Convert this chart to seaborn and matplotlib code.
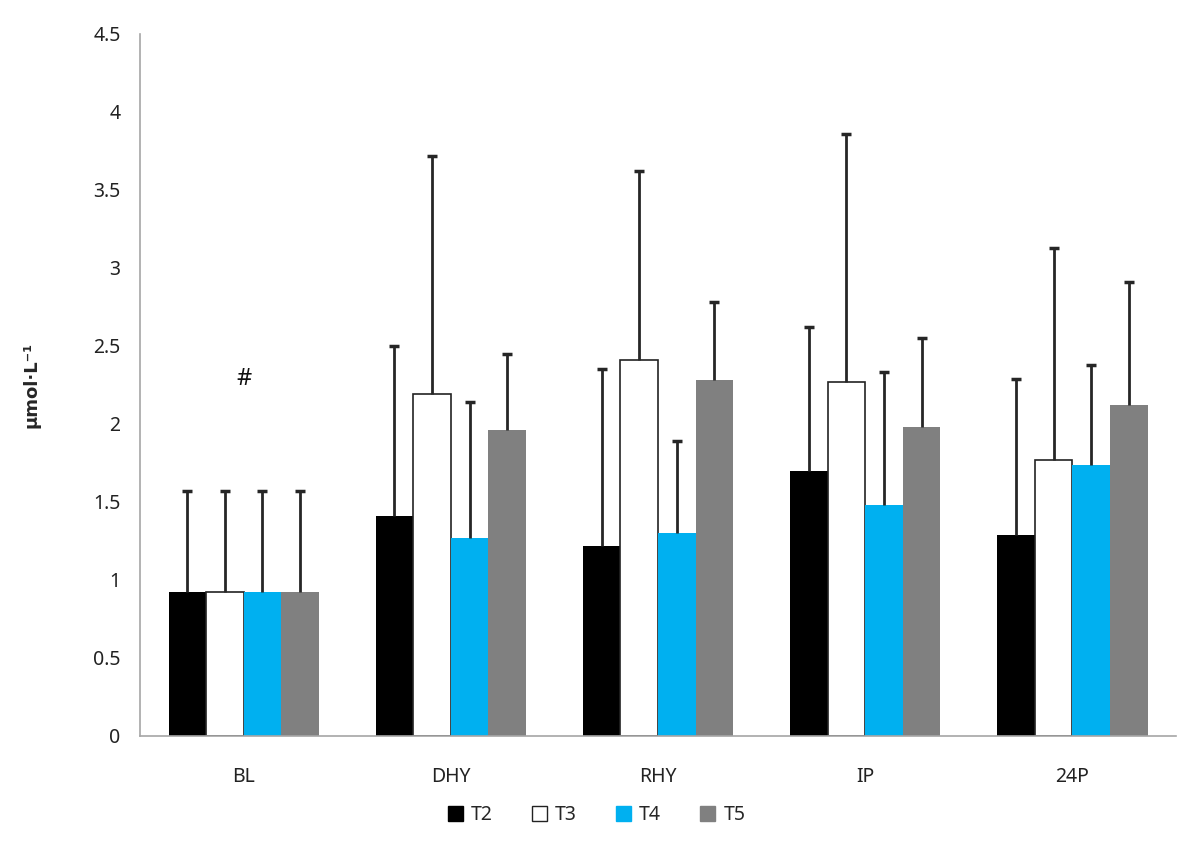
import numpy as np
import pandas as pd
import matplotlib
matplotlib.use("Agg")
import matplotlib.pyplot as plt
from matplotlib.patches import Patch
import seaborn as sns

# data
phases = ["BL", "DHY", "RHY", "IP", "24P"]
groups = ["T2", "T3", "T4", "T5"]
t2_mean = [0.92, 1.41, 1.22, 1.70, 1.29]
t3_mean = [0.92, 2.19, 2.41, 2.27, 1.77]
t4_mean = [0.92, 1.27, 1.30, 1.48, 1.74]
t5_mean = [0.92, 1.96, 2.28, 1.98, 2.12]
t2_sd = [0.65, 1.09, 1.13, 0.92, 1.00]
t3_sd = [0.65, 1.53, 1.21, 1.59, 1.36]
t4_sd = [0.65, 0.87, 0.59, 0.85, 0.64]
t5_sd = [0.65, 0.49, 0.50, 0.57, 0.79]
colors = ["#000000", "#ffffff", "#00b0f0", "#808080"]

means = [t2_mean, t3_mean, t4_mean, t5_mean]
sds = [t2_sd, t3_sd, t4_sd, t5_sd]
df = pd.DataFrame({
    "phase": np.tile(phases, len(groups)),
    "group": np.repeat(groups, len(phases)),
    "value": np.concatenate(means),
})

sns.set_style("white")
plt.rcParams["font.family"] = ["Noto Sans", "DejaVu Sans"]

fig = plt.figure(figsize=(12, 8.6), dpi=100)
ax = fig.add_axes([0.1167, 0.1442, 0.8633, 0.8163])

sns.barplot(data=df, x="phase", y="value", hue="group", order=phases,
            hue_order=groups, palette=colors, width=0.725, errorbar=None,
            saturation=1, linewidth=0, ax=ax, legend=False)

# error bars (upper only) on top of each bar
for cont, sd in zip(ax.containers, sds):
    xs = [b.get_x() + b.get_width() / 2 for b in cont]
    hs = [b.get_height() for b in cont]
    eb = ax.errorbar(xs, hs, yerr=[np.zeros(len(sd)), sd], fmt="none",
                     ecolor="#262626", elinewidth=2, capsize=3.5,
                     capthick=2.5, zorder=3)
    eb[1][0].set_visible(False)  # drop the cap at the bar top

# white bars get a dark outline
for b in ax.containers[1]:
    b.set_edgecolor("#222222")
    b.set_linewidth(1.2)

ax.text(0, 2.29, "#", ha="center", va="center", fontsize=17, color="#111111")

ax.set_ylim(0, 4.5)
ax.set_xlim(-0.5, len(phases) - 0.5)
ax.set_yticks(np.arange(0, 4.51, 0.5))
ax.set_yticklabels(["0", "0.5", "1", "1.5", "2", "2.5", "3", "3.5", "4", "4.5"])
ax.set_xlabel("")
ax.set_ylabel("µmol·L⁻¹", fontsize=13, fontweight="bold", labelpad=38,
              family=["DejaVu Sans"])

ax.set_xticks(np.arange(-0.5, len(phases), 1.0), minor=True)
ax.tick_params(axis="x", which="major", length=0, labelsize=14, pad=22,
               colors="#222222")
ax.tick_params(axis="x", which="minor", length=7, width=1, color="#a6a6a6",
               direction="out")
ax.tick_params(axis="y", length=6, width=1, color="#a6a6a6", labelsize=14,
               labelcolor="#222222", pad=8, direction="out")

sns.despine(ax=ax)
for s in ["left", "bottom"]:
    ax.spines[s].set_color("#a6a6a6")
    ax.spines[s].set_linewidth(1.2)

handles = [Patch(facecolor=c, edgecolor="#222222" if c == "#ffffff" else c,
                 linewidth=1, label=g) for c, g in zip(colors, groups)]
fig.legend(handles=handles, loc="center", bbox_to_anchor=(0.497, 0.052),
           ncol=4, frameon=False, fontsize=14, handlelength=0.8,
           handleheight=0.8, handletextpad=0.4, columnspacing=2.0)

plt.savefig("out.png", dpi=100)
